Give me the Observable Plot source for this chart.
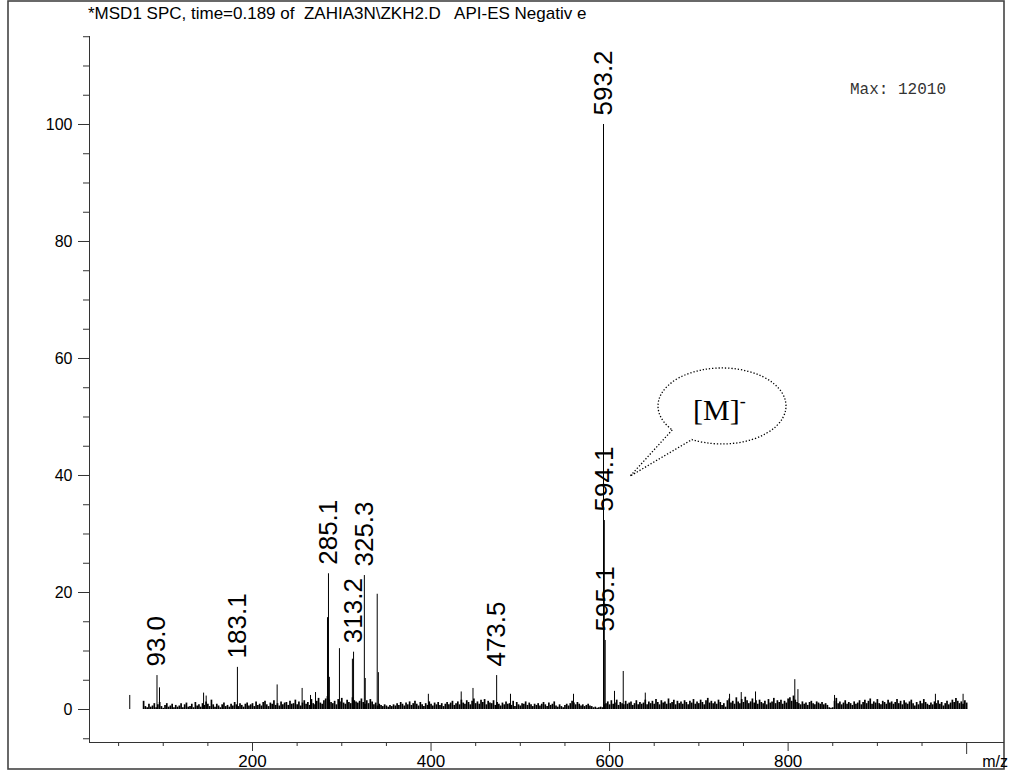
<!DOCTYPE html>
<html>
<head>
<meta charset="utf-8">
<script src="https://cdn.jsdelivr.net/npm/d3@7"></script>
<script src="https://cdn.jsdelivr.net/npm/@observablehq/plot@0.6"></script>
<style>
  html, body { margin: 0; padding: 0; background: #fff; }
  #chart { width: 1012px; height: 774px; }
</style>
</head>
<body>
<div id="chart"></div>
<script>
// ---- Chart data ----
const titleText = "*MSD1 SPC, time=0.189 of  ZAHIA3N\\ZKH2.D   API-ES Negativ e";
const maxText = "Max: 12010";
const xAxisName = "m/z";

// labelled peaks
const labelMz = [93.0, 183.1, 285.1, 313.2, 325.3, 473.5, 593.2, 594.1, 595.1];
const labelIntensity = [5.8, 7.2, 23.2, 9.8, 22.9, 5.8, 100, 32.3, 11.8];
const labelText = ["93.0", "183.1", "285.1", "313.2", "325.3", "473.5", "593.2", "594.1", "595.1"];

// other visible (unlabelled) peaks
const minorMz = [62.5, 95.8, 145.2, 148.1, 227.6, 255.6, 265.0, 270.6, 284.0, 286.1, 297.4, 311.9,
  326.3, 339.7, 341.0, 397.0, 433.8, 447.0, 489.0, 559.6, 605.5, 615.3, 640.0, 734.4, 747.5,
  763.5, 807.5, 811.0, 852.0, 965.0, 996.0];
const minorIntensity = [2.4, 3.7, 2.8, 2.3, 4.2, 3.6, 2.4, 2.9, 15.7, 5.5, 10.4, 8.6,
  5.3, 19.7, 6.3, 2.6, 3.0, 3.6, 2.6, 2.6, 3.1, 6.5, 2.8, 2.6, 2.9,
  3.0, 5.1, 3.4, 2.4, 2.6, 2.6];

// baseline noise, one value every 2 m/z from m/z 78 to 1000
const noiseStart = 78;
const noiseStep = 2;
const noiseIntensity = [
  1.4,0.5,0.3,0.9,0.4,0.6,1.0,0.3,0.8,1.2,0.5,0.2,0.7,1.0,0.4,0.6,0.9,0.3,0.7,0.4,
  0.6,1.0,0.3,0.8,1.1,0.4,0.5,0.9,0.3,1.2,0.6,0.8,0.4,1.0,0.7,1.3,0.9,0.5,1.6,0.8,
  0.4,0.9,0.6,0.3,0.8,1.1,0.5,0.7,0.4,0.9,0.6,1.2,0.8,0.5,1.0,0.7,0.4,0.9,1.1,0.6,
  0.8,1.0,0.5,1.3,0.7,0.9,0.6,1.2,1.4,0.8,0.5,1.1,0.9,1.5,0.7,1.0,0.6,1.3,0.8,1.1,
  1.2,0.7,1.4,0.9,1.0,1.6,0.8,1.3,0.6,1.1,1.5,0.9,1.2,0.7,1.7,1.0,0.8,1.4,1.9,1.1,
  0.9,1.5,1.8,2.2,1.6,1.2,1.0,1.4,0.8,1.7,1.3,1.9,1.1,0.9,1.6,1.2,1.0,2.0,1.5,1.3,
  1.1,1.4,1.8,1.2,0.9,1.5,1.0,1.7,1.3,0.8,1.1,0.6,0.9,0.7,0.5,0.8,0.6,0.4,0.7,0.5,
  0.8,0.6,1.0,0.7,1.2,0.9,0.6,1.1,0.8,1.3,0.7,1.0,1.4,0.9,0.6,1.2,0.8,0.5,1.0,0.7,
  1.3,0.9,0.6,1.1,0.8,1.2,0.7,1.0,0.5,0.9,1.2,0.8,1.1,1.4,0.7,1.0,1.3,0.8,1.6,1.1,
  0.9,1.5,1.2,0.8,1.4,1.8,1.0,1.3,0.9,1.6,1.2,1.7,0.8,1.4,1.1,1.0,1.5,0.7,1.2,0.9,
  0.6,1.1,0.8,1.3,0.9,1.0,0.7,1.4,0.5,1.2,0.8,0.6,1.0,0.9,1.3,0.7,1.1,0.8,0.5,0.9,
  0.7,1.0,0.6,0.9,1.2,0.8,0.5,1.1,0.7,0.9,1.3,0.6,0.4,0.8,0.5,0.3,0.7,0.9,0.6,1.0,
  1.4,1.1,0.8,1.2,0.9,0.6,0.8,0.5,0.7,0.9,0.6,0.5,0.3,0.4,0.2,0.3,0.4,0.3,0.8,1.0,
  1.3,0.8,1.5,0.9,1.1,1.6,0.7,1.2,1.0,0.8,1.4,0.9,1.1,1.3,0.7,1.0,1.5,0.8,1.2,0.9,
  1.1,1.6,0.8,1.3,1.0,1.4,0.9,1.7,1.2,0.8,1.5,1.1,1.3,0.9,1.8,1.0,1.2,1.6,0.8,1.4,
  1.0,1.3,0.9,1.5,1.2,0.8,1.4,1.1,1.7,0.9,1.3,1.0,1.6,1.2,0.8,1.5,1.9,1.1,1.4,1.0,
  1.3,0.9,1.6,1.2,0.7,1.0,0.4,1.5,1.8,1.1,1.4,0.9,2.0,1.3,1.0,1.7,1.2,2.1,1.5,1.0,
  1.3,1.8,1.1,1.5,0.9,1.6,1.2,1.0,1.4,0.8,1.7,1.1,1.3,1.9,1.0,1.5,1.2,1.6,0.9,1.4,
  1.1,1.8,2.0,1.4,2.3,1.6,1.2,1.0,0.8,1.3,0.9,1.1,0.7,1.2,1.4,1.0,0.8,1.3,1.1,0.9,
  1.2,0.8,1.0,0.7,0.3,0.2,0.3,1.4,1.9,1.0,1.3,0.8,1.1,1.5,0.9,1.2,1.0,0.7,1.3,0.9,
  1.1,1.5,0.8,1.2,1.6,1.0,1.4,1.8,0.9,1.3,1.1,1.7,1.0,0.8,1.4,1.2,0.9,1.6,1.1,1.3,
  0.9,1.2,1.7,1.0,1.4,0.8,1.5,1.1,0.9,1.3,1.6,1.0,0.6,1.2,0.8,1.4,1.0,1.7,1.2,0.9,
  0.7,1.1,0.8,1.3,1.0,1.5,0.9,1.2,0.6,1.0,1.4,0.8,1.1,1.6,1.2,1.9,1.4,1.0,1.3,0.9,
  1.5,1.1
];

// axis ticks
const yMajorTicks = [0, 20, 40, 60, 80, 100];
const yMinorTicks = [-5, 5, 10, 15, 25, 30, 35, 45, 50, 55, 65, 70, 75, 85, 90, 95, 105, 110, 115];
const xMajorTicks = [200, 400, 600, 800];
const xEndTick = [1000];
const xMinorTicks = [50, 100, 150, 250, 300, 350, 450, 500, 550, 650, 700, 750, 850, 900, 950];

// callout annotation (data coordinates)
const calloutTip = {mz: 623.5, v: 39.8};
const calloutCenter = {mz: 726.5, v: 51.8};
const calloutText = "[M]";

// ---- tables for the marks ----
const xDomain = [17.4, 1042.4];
const yDomain = [-5.64, 115.04];
const labelled = labelMz.map((mz, i) => ({mz, v: labelIntensity[i], label: labelText[i]}));
const minor = minorMz.map((mz, i) => ({mz, v: minorIntensity[i]}));
const noise = noiseIntensity.map((v, i) => ({mz: noiseStart + noiseStep * i, v}));

const FONT = "'Liberation Sans', Arial, Helvetica, sans-serif";

const chart = Plot.plot({
  width: 1012,
  height: 774,
  marginLeft: 89,
  marginRight: 8,
  marginTop: 36,
  marginBottom: 32,
  style: {fontFamily: FONT, background: "#fff", color: "#000", overflow: "visible"},
  x: {domain: xDomain, label: null},
  y: {domain: yDomain, label: null},
  marks: [
    Plot.ruleX(noise, {x: "mz", y1: 0, y2: "v", stroke: "#000", strokeWidth: 1.7}),
    Plot.ruleX(minor, {x: "mz", y1: 0, y2: "v", stroke: "#000", strokeWidth: 1}),
    Plot.ruleX(labelled, {x: "mz", y1: 0, y2: "v", stroke: "#000", strokeWidth: 1}),
    Plot.text(labelled, {x: "mz", y: "v", text: "label", rotate: -90, textAnchor: "start",
      lineAnchor: "middle", dy: -9, fontSize: 26, fill: "#000"}),
    Plot.ruleY([yDomain[0]], {stroke: "#333", strokeWidth: 1}),
    Plot.ruleX([xDomain[0]], {stroke: "#333", strokeWidth: 1}),
    Plot.axisY(yMinorTicks, {tickSize: 6, tickFormat: () => null, stroke: "#333"}),
    Plot.axisY(yMajorTicks, {tickSize: 11, tickPadding: 6, fontSize: 16, stroke: "#333", label: null}),
    Plot.axisX(xMinorTicks, {tickSize: 4, tickFormat: () => null, stroke: "#333"}),
    Plot.axisX(xEndTick, {tickSize: 12, tickFormat: () => null, stroke: "#333"}),
    Plot.axisX(xMajorTicks, {tickSize: 9, tickPadding: 3, fontSize: 17, stroke: "#333", label: null})
  ]
});

document.getElementById("chart").appendChild(chart);

// ---- decorations: frame, title, max label, axis name, callout ----
const svg = d3.select(chart);
const sx = chart.scale("x");
const sy = chart.scale("y");

svg.insert("rect", ":first-child")
  .attr("x", 8).attr("y", 1).attr("width", 996).attr("height", 768)
  .attr("fill", "none").attr("stroke", "#444").attr("stroke-width", 1.6);

svg.append("text")
  .attr("x", 88).attr("y", 19).attr("text-anchor", "start")
  .attr("font-family", FONT).attr("font-size", 17).attr("fill", "#000")
  .style("white-space", "pre")
  .text(titleText);

svg.append("text")
  .attr("x", 850).attr("y", 94).attr("text-anchor", "start")
  .attr("font-family", "'Liberation Mono', 'Courier New', monospace").attr("font-size", 16)
  .attr("fill", "#333")
  .text(maxText);

svg.append("text")
  .attr("x", sx.apply(1000) + 16).attr("y", 767).attr("text-anchor", "start")
  .attr("font-family", FONT).attr("font-size", 16).attr("fill", "#000")
  .text(xAxisName);

// callout bubble
const cx = sx.apply(calloutCenter.mz), cy = sy.apply(calloutCenter.v);
const rx = 64, ry = 38;
const tx = sx.apply(calloutTip.mz), ty = sy.apply(calloutTip.v);
const a1 = 141 * Math.PI / 180, a2 = 118 * Math.PI / 180;
const A = [cx + rx * Math.cos(a1), cy + ry * Math.sin(a1)];
const B = [cx + rx * Math.cos(a2), cy + ry * Math.sin(a2)];
svg.append("path")
  .attr("d", `M${A[0]},${A[1]} L${tx},${ty} L${B[0]},${B[1]} A${rx},${ry} 0 1 0 ${A[0]},${A[1]}`)
  .attr("fill", "none").attr("stroke", "#000").attr("stroke-width", 1.3)
  .attr("stroke-dasharray", "1.3,1.9");

const ct = svg.append("text")
  .attr("x", cx - 29).attr("y", cy + 14).attr("text-anchor", "start")
  .attr("font-family", "'Liberation Serif', 'Times New Roman', serif").attr("font-size", 30)
  .attr("fill", "#000");
ct.append("tspan").text(calloutText);
ct.append("tspan").attr("dy", -13).attr("font-size", 18).text("-");
</script>
</body>
</html>
